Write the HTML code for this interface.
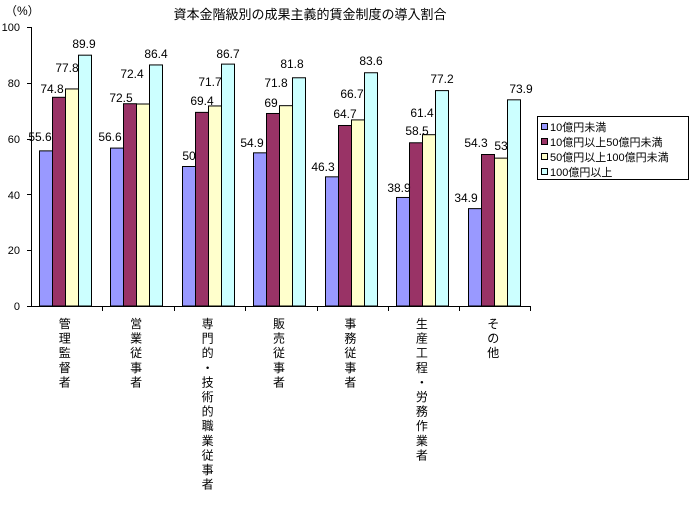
<!DOCTYPE html>
<html><head><meta charset="utf-8"><style>
body{margin:0;background:#fff;}
svg text{font-family:"Liberation Sans","Noto Sans CJK JP",sans-serif;}
</style></head><body>
<svg width="690" height="500" xmlns="http://www.w3.org/2000/svg">
<rect width="690" height="500" fill="#fff"/>
<text x="310" y="19" font-size="13" text-anchor="middle">資本金階級別の成果主義的賃金制度の導入割合</text>
<text x="5" y="15" font-size="12">（%）</text>
<g font-size="11" text-anchor="end">
<text x="20" y="31">100</text><text x="20" y="87">80</text><text x="20" y="143">60</text><text x="20" y="199">40</text><text x="20" y="254">20</text><text x="20" y="310">0</text>
</g>
<g stroke="#000" stroke-width="1">
<line x1="31.5" y1="27" x2="31.5" y2="306"/>
<line x1="31" y1="306.5" x2="531" y2="306.5"/>
<line x1="27" y1="27.5" x2="31" y2="27.5"/><line x1="27" y1="83.5" x2="31" y2="83.5"/><line x1="27" y1="139.5" x2="31" y2="139.5"/><line x1="27" y1="194.5" x2="31" y2="194.5"/><line x1="27" y1="250.5" x2="31" y2="250.5"/><line x1="27" y1="306.5" x2="31" y2="306.5"/>
<line x1="102.5" y1="306" x2="102.5" y2="311"/><line x1="174.5" y1="306" x2="174.5" y2="311"/><line x1="245.5" y1="306" x2="245.5" y2="311"/><line x1="317.5" y1="306" x2="317.5" y2="311"/><line x1="388.5" y1="306" x2="388.5" y2="311"/><line x1="459.5" y1="306" x2="459.5" y2="311"/><line x1="530.5" y1="306" x2="530.5" y2="311"/>
</g>
<g id="bars" stroke="#000" stroke-width="1"></g>
<g id="labels" font-size="12" text-anchor="middle"></g>
<g id="cats" font-size="12"></g>
<rect x="537.5" y="116.5" width="151" height="63" fill="#fff" stroke="#000"/>
<g font-size="11" stroke="#000" stroke-width="1">
<rect x="541.5" y="123.5" width="6" height="6" fill="#9999ff"/>
<rect x="541.5" y="138.5" width="6" height="6" fill="#993366"/>
<rect x="541.5" y="153.5" width="6" height="6" fill="#ffffcc"/>
<rect x="541.5" y="168.5" width="6" height="6" fill="#ccffff"/>
</g>
<g font-size="11">
<text x="550" y="131">10億円未満</text>
<text x="550" y="146">10億円以上50億円未満</text>
<text x="550" y="161">50億円以上100億円未満</text>
<text x="550" y="176">100億円以上</text>
</g>
</svg>
<script>
var d=[[55.6,74.8,77.8,89.9],[56.6,72.5,72.4,86.4],[50,69.4,71.7,86.7],[54.9,69,71.8,81.8],[46.3,64.7,66.7,83.6],[38.9,58.5,61.4,77.2],[34.9,54.3,53,73.9]];
var lp=[[[40,141],[52,93],[67,72],[84,48]],[[110,141],[121,102],[132,78],[156,58]],[[189,160],[202,105],[210,86],[228,58]],[[252,147],[271,107],[276,87],[292,68]],[[323,171],[345,118],[352,98],[371,65]],[[399,192],[417,135],[422,117],[442,83]],[[466,202],[476,147],[501,150],[521,93]]];
var c=["#9999ff","#993366","#ffffcc","#ccffff"];
var cats=["管理監督者","営業従事者","専門的・技術的職業従事者","販売従事者","事務従事者","生産工程・労務作業者","その他"];
var ns="http://www.w3.org/2000/svg",B=document.getElementById("bars"),L=document.getElementById("labels"),C=document.getElementById("cats");
var gw=500/7;
d.forEach(function(g,i){var x0=31+i*gw+8;
g.forEach(function(v,j){var h=v*2.79,x=Math.round(x0+j*13)+0.5,y=306-h;
var r=document.createElementNS(ns,"rect");r.setAttribute("x",x);r.setAttribute("y",y);r.setAttribute("width",13);r.setAttribute("height",h);r.setAttribute("fill",c[j]);B.appendChild(r);
var t=document.createElementNS(ns,"text");t.setAttribute("x",lp[i][j][0]);t.setAttribute("y",lp[i][j][1]);t.textContent=v;L.appendChild(t);});
var cx=31+i*gw+gw/2-2;
cats[i].split("").forEach(function(ch,k){var t=document.createElementNS(ns,"text");t.setAttribute("x",cx);t.setAttribute("y",328+k*14.6);t.setAttribute("text-anchor","middle");t.textContent=ch;C.appendChild(t);});
});
</script>
</body></html>
